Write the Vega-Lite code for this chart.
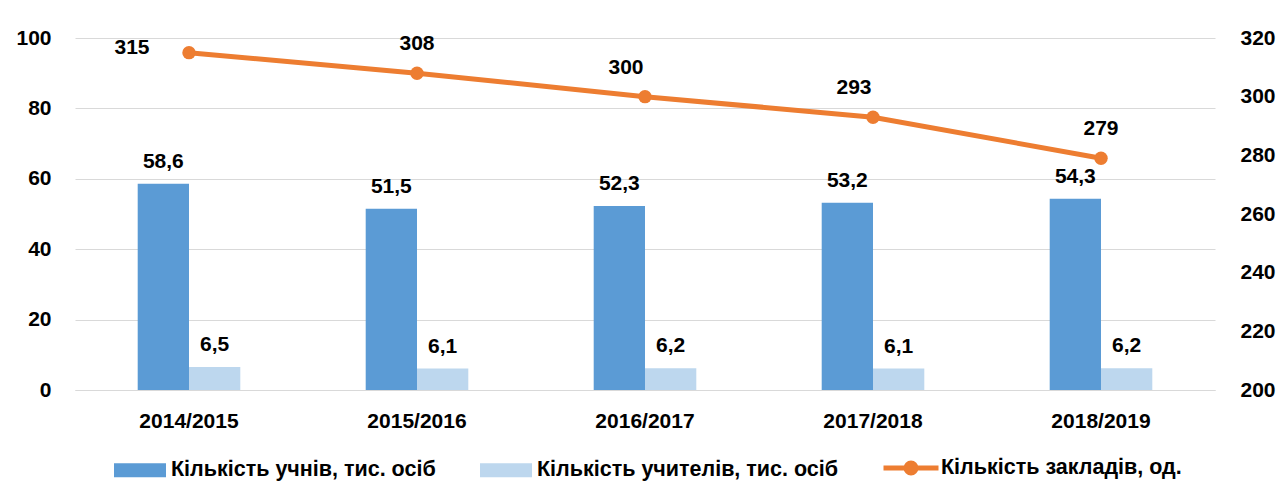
{
  "$schema": "https://vega.github.io/schema/vega-lite/v6.json",
  "width": 1140,
  "height": 352,
  "autosize": {"type": "none"},
  "padding": {"left": 75, "top": 38, "right": 65, "bottom": 98},
  "background": "white",
  "config": {
    "font": "Liberation Sans",
    "view": {"stroke": null},
    "locale": {"number": {"decimal": ",", "thousands": " ", "grouping": [3], "currency": ["", ""]}},
    "axis": {"labelFont": "Liberation Sans", "labelFontWeight": "bold", "labelFontSize": 21, "labelColor": "#000000", "title": null}
  },
  "data": {
    "values": [
      {"year": "2014/2015", "students": 58.6, "teachers": 6.5, "schools": 315},
      {"year": "2015/2016", "students": 51.5, "teachers": 6.1, "schools": 308},
      {"year": "2016/2017", "students": 52.3, "teachers": 6.2, "schools": 300},
      {"year": "2017/2018", "students": 53.2, "teachers": 6.1, "schools": 293},
      {"year": "2018/2019", "students": 54.3, "teachers": 6.2, "schools": 279}
    ]
  },
  "encoding": {
    "x": {
      "field": "year", "type": "nominal", "sort": null,
      "scale": {"paddingInner": 0.55, "paddingOuter": 0.275},
      "axis": {"labelAngle": 0, "domain": true, "domainColor": "#d9d9d9", "ticks": false, "labelPadding": 20, "grid": false}
    }
  },
  "layer": [
    {
      "transform": [
        {"fold": ["students", "teachers"], "as": ["key", "value"]},
        {"calculate": "datum.key === 'students' ? 'Кількість учнів, тис. осіб' : 'Кількість учителів, тис. осіб'", "as": "series"}
      ],
      "encoding": {
        "xOffset": {"field": "series", "type": "nominal", "sort": ["Кількість учнів, тис. осіб", "Кількість учителів, тис. осіб"]},
        "y": {
          "field": "value", "type": "quantitative",
          "scale": {"domain": [0, 100]},
          "axis": {"orient": "left", "values": [0, 20, 40, 60, 80, 100], "domain": false, "ticks": false, "grid": true, "gridColor": "#d9d9d9", "gridWidth": 1, "labelPadding": 24}
        }
      },
      "layer": [
        {
          "mark": {"type": "bar"},
          "encoding": {
            "fill": {
              "field": "series", "type": "nominal",
              "scale": {"domain": ["Кількість учнів, тис. осіб", "Кількість учителів, тис. осіб"], "range": ["#5B9BD5", "#BDD7EE"]},
              "legend": {
                "title": null, "orient": "none", "direction": "horizontal", "columns": 2,
                "legendX": 39, "legendY": 406,
                "symbolType": "M-1,-0.27L1,-0.27L1,0.27L-1,0.27Z", "symbolSize": 2704, "symbolStrokeWidth": 0,
                "labelFont": "Liberation Sans", "labelFontWeight": "bold", "labelFontSize": 21.5, "labelColor": "#000000",
                "labelOffset": 5, "columnPadding": 44, "labelLimit": 400
              }
            }
          }
        },
        {
          "mark": {"type": "text", "baseline": "alphabetic", "align": "center", "dy": -16, "font": "Liberation Sans", "fontWeight": "bold", "fontSize": 21, "color": "#000000"},
          "encoding": {"text": {"field": "value", "type": "quantitative", "format": ".1f"}}
        }
      ]
    },
    {
      "encoding": {
        "y": {
          "field": "schools", "type": "quantitative",
          "scale": {"domain": [200, 320]},
          "axis": {"orient": "right", "values": [200, 220, 240, 260, 280, 300, 320], "domain": false, "ticks": false, "grid": false, "labelPadding": 25}
        }
      },
      "layer": [
        {
          "mark": {"type": "line", "strokeWidth": 5},
          "encoding": {
            "stroke": {
              "datum": "Кількість закладів, од.",
              "scale": {"range": ["#ED7D31"]},
              "legend": {
                "title": null, "orient": "none", "legendX": 806, "legendY": 400,
                "symbolType": "M-1,0L1,0M0.18,0A0.18,0.18,0,1,1,-0.18,0A0.18,0.18,0,1,1,0.18,0Z",
                "symbolSize": 3025, "symbolStrokeWidth": 5, "symbolFillColor": "#ED7D31",
                "labelFont": "Liberation Sans", "labelFontWeight": "bold", "labelFontSize": 21.5, "labelColor": "#000000",
                "labelOffset": 0, "labelLimit": 400
              }
            }
          }
        },
        {
          "mark": {"type": "point", "filled": true, "size": 180, "color": "#ED7D31", "opacity": 1}
        },
        {
          "transform": [{"filter": {"field": "year", "oneOf": ["2014/2015"]}}],
          "mark": {"type": "text", "baseline": "alphabetic", "align": "center", "dx": -57, "dy": 1, "font": "Liberation Sans", "fontWeight": "bold", "fontSize": 21, "color": "#000000"},
          "encoding": {"text": {"field": "schools", "type": "quantitative", "format": "d"}}
        },
        {
          "transform": [{"filter": {"field": "year", "oneOf": ["2015/2016", "2018/2019"]}}],
          "mark": {"type": "text", "baseline": "alphabetic", "align": "center", "dy": -23, "font": "Liberation Sans", "fontWeight": "bold", "fontSize": 21, "color": "#000000"},
          "encoding": {"text": {"field": "schools", "type": "quantitative", "format": "d"}}
        },
        {
          "transform": [{"filter": {"field": "year", "oneOf": ["2016/2017", "2017/2018"]}}],
          "mark": {"type": "text", "baseline": "alphabetic", "align": "center", "dx": -19, "dy": -23, "font": "Liberation Sans", "fontWeight": "bold", "fontSize": 21, "color": "#000000"},
          "encoding": {"text": {"field": "schools", "type": "quantitative", "format": "d"}}
        }
      ]
    }
  ],
  "resolve": {"scale": {"y": "independent"}}
}
